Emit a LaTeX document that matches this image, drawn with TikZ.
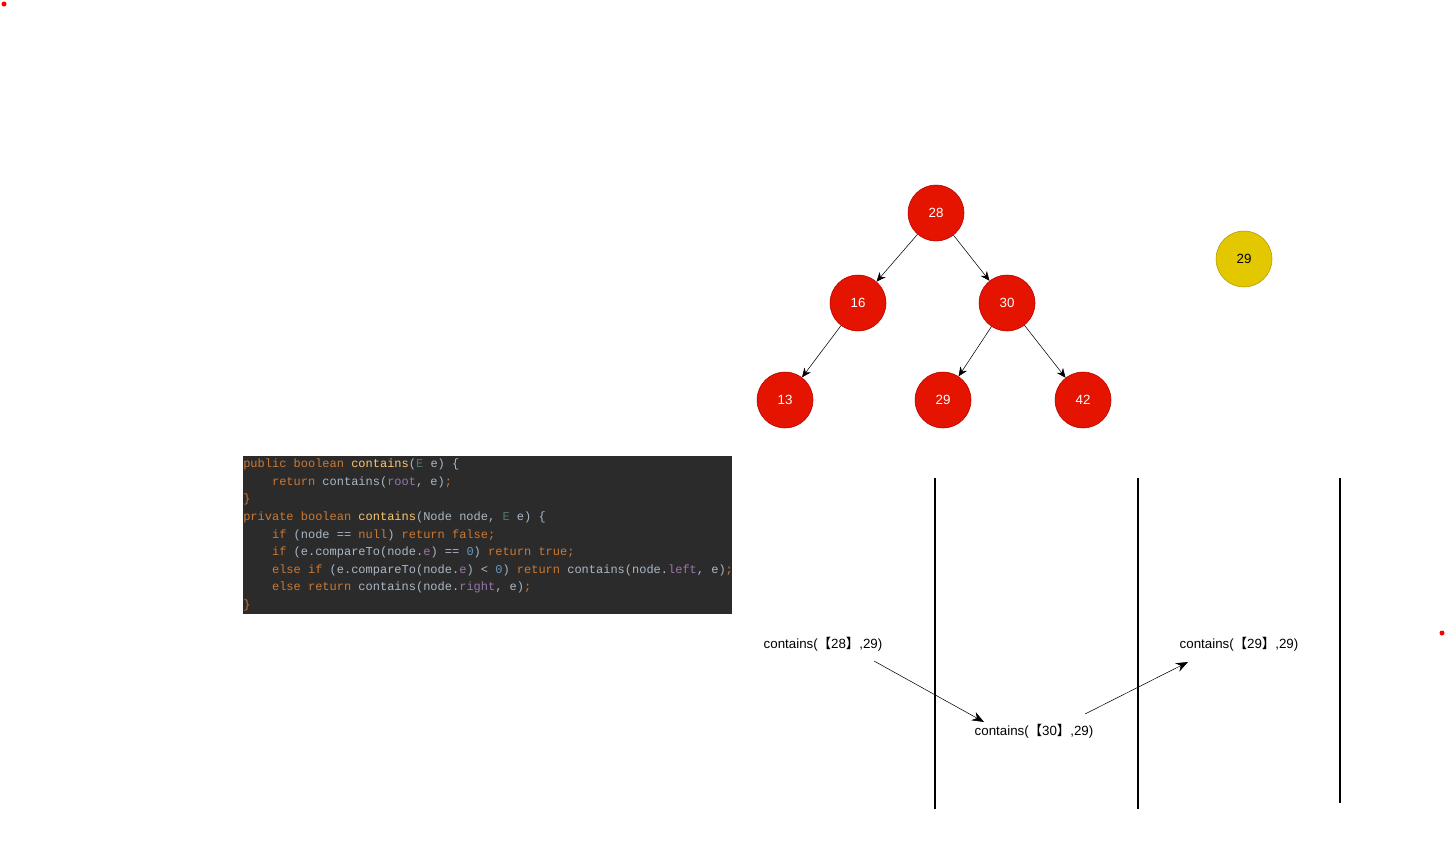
\documentclass[tikz,border=0pt]{standalone}
\usepackage{fontspec}
\setsansfont{Liberation Sans}
\setmonofont{Liberation Mono}
\newfontfamily\cjk{Noto Sans CJK SC}
\usetikzlibrary{arrows.meta}
\definecolor{bstred}{HTML}{E51400}
\definecolor{bstline}{HTML}{B20000}
\definecolor{probeyellow}{HTML}{E3C800}
\definecolor{probeline}{HTML}{B09500}
\definecolor{codebg}{HTML}{2B2B2B}
\definecolor{codetxt}{HTML}{A9B7C6}
\definecolor{codekw}{HTML}{CC7832}
\definecolor{codefn}{HTML}{FFC66D}
\definecolor{codefld}{HTML}{9876AA}
\definecolor{codenum}{HTML}{6897BB}
\definecolor{codety}{HTML}{507874}
\newcommand{\kw}[1]{\textcolor{codekw}{#1}}
\newcommand{\fn}[1]{\textcolor{codefn}{#1}}
\newcommand{\fld}[1]{\textcolor{codefld}{#1}}
\newcommand{\nm}[1]{\textcolor{codenum}{#1}}
\newcommand{\ty}[1]{\textcolor{codety}{#1}}
\newcommand{\ind}{\phantom{xxxx}}
\newcommand{\brk}[1]{{\cjk 【}#1{\cjk 】}}
\tikzset{bst/.style={circle,draw=bstline,fill=bstred,text=white,minimum size=42pt,inner sep=0pt,font=\sffamily\fontsize{10}{12}\selectfont},
 probe/.style={bst,draw=probeline,fill=probeyellow,text=black},
 link/.style={-{Stealth[length=7pt,width=6pt]},thin},
 callarrow/.style={-{Stealth[length=9pt,width=7pt]},thin},
 call/.style={font=\sffamily\fontsize{10}{12}\selectfont,inner sep=1pt},
 lane/.style={line width=1.5pt},
 listing/.style={anchor=north west,inner xsep=0pt,inner ysep=2pt,align=left,text=codetxt,font=\ttfamily\fontsize{9}{13.2}\selectfont}}

\begin{document}
\begin{tikzpicture}[x=0.75pt,y=-0.75pt]
\useasboundingbox (0,0) rectangle (1445,853);
\fill[red] (4,4) circle (2.5) (1442,633) circle (2.5);
% tree
\node[bst] (n28) at (936,213) {28};
\node[bst] (n16) at (858,303) {16};
\node[bst] (n30) at (1007,303) {30};
\node[bst] (n13) at (785,400) {13};
\node[bst] (n29) at (943,400) {29};
\node[bst] (n42) at (1083,400) {42};
\node[probe] (key) at (1244,259) {29};
\foreach \a/\b in {n28/n16,n28/n30,n16/n13,n30/n29,n30/n42} \draw[link] (\a) -- (\b);
% code
\fill[codebg] (243,456) rectangle (732,614);
\node[listing] (code) at (243,456) {%
\kw{public boolean} \fn{contains}(\ty{E} e) \{\\
\ind\kw{return} contains(\fld{root}, e)\kw{;}\\
\kw{\}}\\
\kw{private boolean} \fn{contains}(Node node, \ty{E} e) \{\\
\ind\kw{if} (node == \kw{null}) \kw{return false;}\\
\ind\kw{if} (e.compareTo(node.\fld{e}) == \nm{0}) \kw{return true;}\\
\ind\kw{else if} (e.compareTo(node.\fld{e}) < \nm{0}) \kw{return} contains(node.\fld{left}, e)\kw{;}\\
\ind\kw{else return} contains(node.\fld{right}, e)\kw{;}\\
\kw{\}}};
% call stack
\foreach \x/\b in {935/809,1138/809,1340/803} \draw[lane] (\x,478) -- (\x,\b);
\node[call] (c28) at (823,644) {contains(\brk{28},29)};
\node[call] (c30) at (1034,731) {contains(\brk{30},29)};
\node[call] (c29) at (1239,644) {contains(\brk{29},29)};
\coordinate (s28) at (874,661);
\coordinate (e30) at (984,722);
\coordinate (s30) at (1085,714);
\coordinate (e29) at (1188,662);
\draw[callarrow] (s28) -- (e30);
\draw[callarrow] (s30) -- (e29);
\end{tikzpicture}
\end{document}
